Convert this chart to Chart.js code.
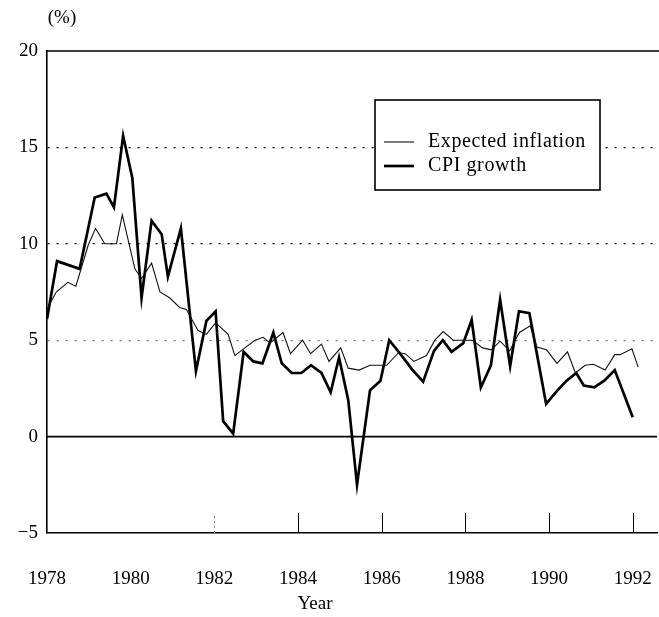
<!DOCTYPE html>
<html lang="en">
<head>
<meta charset="UTF-8">
<title>Expected inflation and CPI growth</title>
<script src="https://cdn.jsdelivr.net/npm/chart.js"></script>
<style>
    body { margin: 0; background: #fff; }
    canvas { display: block; }
</style>
</head>
<body>
<canvas id="inflChart" width="659" height="617"></canvas>
<script>
// values (x in years, y in %)
const expYears = [1978.00, 1978.22, 1978.50, 1978.69, 1978.98, 1979.16, 1979.38, 1979.66, 1979.80, 1980.10,
    1980.26, 1980.50, 1980.70, 1980.93, 1981.17, 1981.33, 1981.61, 1981.81, 1982.03, 1982.33,
    1982.49, 1982.73, 1982.97, 1983.17, 1983.33, 1983.64, 1983.82, 1984.11, 1984.30, 1984.56,
    1984.74, 1985.02, 1985.20, 1985.46, 1985.72, 1986.12, 1986.40, 1986.56, 1986.77, 1987.07,
    1987.27, 1987.47, 1987.71, 1987.99, 1988.17, 1988.41, 1988.62, 1988.83, 1989.06, 1989.29,
    1989.55, 1989.71, 1989.94, 1990.19, 1990.44, 1990.63, 1990.86, 1991.06, 1991.34, 1991.57,
    1991.70, 1991.98, 1992.13];
const expValues = [6.6, 7.5, 8.0, 7.8, 9.9, 10.8, 10.0, 10.0, 11.5, 8.7,
    8.2, 9.0, 7.5, 7.2, 6.7, 6.6, 5.5, 5.3, 5.9, 5.3,
    4.2, 4.6, 5.0, 5.15, 4.85, 5.4, 4.3, 5.0, 4.3, 4.8,
    3.9, 4.6, 3.55, 3.45, 3.7, 3.7, 4.35, 4.3, 3.9, 4.2,
    5.0, 5.45, 5.0, 5.0, 5.0, 4.6, 4.5, 4.95, 4.45, 5.4,
    5.75, 4.65, 4.5, 3.8, 4.4, 3.3, 3.7, 3.75, 3.45, 4.25,
    4.25, 4.55, 3.6];

const cpiYears = [1978.00, 1978.24, 1978.78, 1979.14, 1979.42, 1979.60, 1979.82, 1980.04, 1980.26, 1980.50,
    1980.74, 1980.89, 1981.20, 1981.56, 1981.81, 1982.03, 1982.21, 1982.45, 1982.70, 1982.93,
    1983.15, 1983.41, 1983.61, 1983.85, 1984.08, 1984.31, 1984.56, 1984.78, 1984.98, 1985.20,
    1985.41, 1985.72, 1985.97, 1986.18, 1986.44, 1986.72, 1986.99, 1987.25, 1987.46, 1987.67,
    1987.95, 1988.15, 1988.37, 1988.61, 1988.83, 1989.07, 1989.28, 1989.53, 1989.93, 1990.18,
    1990.42, 1990.65, 1990.83, 1991.08, 1991.32, 1991.57, 1992.00];
const cpiValues = [6.1, 9.1, 8.7, 12.4, 12.6, 11.9, 15.6, 13.4, 7.2, 11.2,
    10.5, 8.3, 10.8, 3.4, 6.0, 6.5, 0.8, 0.15, 4.4, 3.9,
    3.8, 5.4, 3.8, 3.3, 3.3, 3.7, 3.3, 2.3, 4.1, 1.9,
    -2.5, 2.4, 2.9, 5.0, 4.3, 3.5, 2.85, 4.45, 5.0, 4.4,
    4.85, 6.05, 2.55, 3.7, 7.1, 3.65, 6.5, 6.4, 1.7, 2.35,
    2.9, 3.3, 2.65, 2.55, 2.9, 3.45, 1.0];

const seriesLabels = ['Expected inflation', 'CPI growth'];
const yDotted = [5, 10, 15];
const xInsideTicks = [1982, 1984, 1986, 1988, 1990, 1992];

const SERIF = '"Liberation Serif", "Times New Roman", serif';

// top rule, zero line, inner tick marks, axis texts and boxed legend
const framePlugin = {
    id: 'frame',
    beforeDatasetsDraw(chart) {
        const { ctx, chartArea: a, scales: { x, y } } = chart;
        ctx.save();
        ctx.strokeStyle = '#000';
        ctx.lineWidth = 1.6;
        ctx.beginPath();
        ctx.moveTo(a.left, a.top);
        ctx.lineTo(a.right + 2, a.top);
        const y0 = y.getPixelForValue(0);
        ctx.moveTo(a.left, y0);
        ctx.lineTo(a.right, y0);
        ctx.stroke();

        ctx.lineWidth = 1;
        xInsideTicks.forEach(v => {
            const px = Math.round(x.getPixelForValue(v)) + 0.5;
            ctx.setLineDash(v === 1982 ? [2, 3] : []);
            ctx.strokeStyle = v === 1982 ? '#888' : '#000';
            ctx.beginPath();
            ctx.moveTo(px, a.bottom);
            ctx.lineTo(px, a.bottom - 20);
            ctx.stroke();
        });
        ctx.restore();
    },
    afterDraw(chart) {
        const { ctx, chartArea: a } = chart;
        ctx.save();
        ctx.fillStyle = '#000';
        ctx.font = '19px ' + SERIF;
        ctx.textAlign = 'center';
        ctx.textBaseline = 'middle';
        ctx.fillText('(%)', a.left + 15, 18);
        ctx.fillText('Year', 315, 604);

        // legend box
        const bx = 375, by = 100, bw = 225, bh = 90;
        ctx.fillStyle = '#fff';
        ctx.fillRect(bx, by, bw, bh);
        ctx.strokeStyle = '#000';
        ctx.lineWidth = 1.6;
        ctx.strokeRect(bx, by, bw, bh);

        ctx.textAlign = 'left';
        ctx.font = '20px ' + SERIF;
        ctx.letterSpacing = '0.6px';
        chart.data.datasets.forEach((ds, i) => {
            const ly = 142 + i * 24;
            ctx.strokeStyle = ds.borderColor;
            ctx.lineWidth = ds.borderWidth;
            ctx.beginPath();
            ctx.moveTo(384, ly);
            ctx.lineTo(414, ly);
            ctx.stroke();
            ctx.fillStyle = '#000';
            ctx.fillText(ds.label, 428, ly);
        });
        ctx.restore();
    }
};

const ctx = document.getElementById('inflChart').getContext('2d');
new Chart(ctx, {
    type: 'line',
    data: {
        datasets: [{
            label: seriesLabels[0],
            data: expYears.map((x, i) => ({ x: x, y: expValues[i] })),
            borderColor: '#111',
            borderWidth: 1.1,
            pointRadius: 0,
            tension: 0,
            fill: false
        }, {
            label: seriesLabels[1],
            data: cpiYears.map((x, i) => ({ x: x, y: cpiValues[i] })),
            borderColor: '#000',
            borderWidth: 2.7,
            pointRadius: 0,
            tension: 0,
            fill: false
        }]
    },
    options: {
        responsive: false,
        animation: false,
        layout: { padding: { top: 51, right: 2, left: 0, bottom: 0 } },
        plugins: {
            legend: { display: false },
            tooltip: { enabled: false }
        },
        scales: {
            x: {
                type: 'linear',
                min: 1978,
                max: 1992.58,
                afterFit: s => { s.height = 84; s.paddingLeft = 0; s.paddingRight = 0; },
                grid: { display: false },
                border: { color: '#000', width: 1.6 },
                ticks: {
                    stepSize: 2,
                    includeBounds: false,
                    autoSkip: false,
                    maxRotation: 0,
                    padding: 27,
                    color: '#000',
                    font: { family: SERIF, size: 19 },
                    callback: v => String(v)
                }
            },
            y: {
                min: -5,
                max: 20,
                afterFit: s => { s.width = 47; s.paddingTop = 0; s.paddingBottom = 0; },
                grid: {
                    drawTicks: false,
                    lineWidth: 1.3,
                    color: c => yDotted.includes(c.tick.value) ? (c.tick.value === 5 ? '#777' : '#000') : 'rgba(0,0,0,0)'
                },
                border: { color: '#000', width: 1.6, dash: [2, 7] },
                ticks: {
                    stepSize: 5,
                    padding: 9,
                    color: '#000',
                    font: { family: SERIF, size: 19 },
                    callback: v => v < 0 ? '\u2212' + Math.abs(v) : String(v)
                }
            }
        }
    },
    plugins: [framePlugin]
});
</script>
</body>
</html>
